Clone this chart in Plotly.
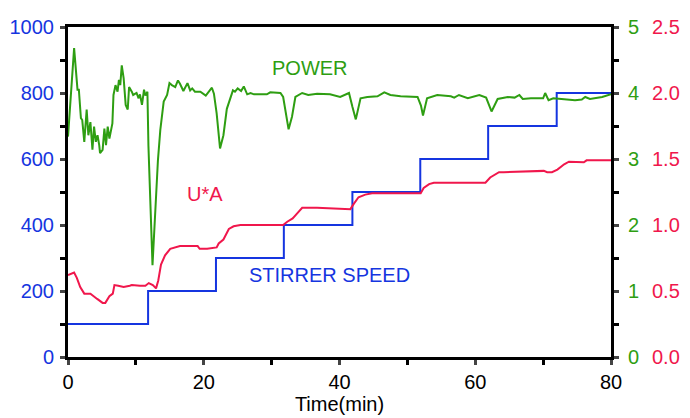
import plotly.graph_objects as go

# Stirrer speed (left axis, rpm-like scale 0-1000)
speed_t = [0, 11.8, 21.8, 31.8, 41.9, 51.9, 61.9, 72.0, 80]
speed_val = [100, 200, 300, 400, 500, 600, 700, 800, 800]

# Power (right axis, 0-5)
power_t = [0, 0.9, 1.4, 1.6, 1.9, 2.1, 2.4, 2.75, 3.0, 3.3, 3.6, 3.84, 4.1, 4.35, 4.6, 4.72,
           5.1, 5.36, 5.6, 5.85, 6.1, 6.35, 6.54, 6.7, 7.0, 7.3, 7.5, 7.7, 7.92, 8.2, 8.5,
           8.8, 9.0, 9.4, 9.6, 10.1, 10.4, 10.6, 10.9, 11.2, 11.4, 11.7, 11.85, 12.45, 13.25,
           13.6, 14.1, 14.6, 14.95, 15.3, 15.8, 16.2, 16.5, 17.0, 17.6, 18.0, 18.3, 18.7,
           19.5, 20.3, 20.7, 21.2, 21.5, 21.9, 22.4, 22.9, 23.4, 23.9, 24.3, 24.6, 25.0,
           25.5, 25.9, 26.4, 26.9, 27.4, 28.4, 29.3, 29.8, 31.3, 31.7, 32.5, 33.0, 33.5,
           34.5, 35.4, 36.7, 38.6, 40.1, 41.4, 41.9, 42.4, 43.1, 44.1, 45.6, 46.6, 47.5,
           49.0, 51.5, 52.0, 52.3, 52.9, 54.4, 56.4, 56.9, 57.6, 58.9, 60.6, 61.6, 62.4,
           63.3, 64.8, 65.8, 66.5, 67.0, 68.2, 70.0, 70.3, 70.8, 71.5, 72.7, 74.7, 75.7,
           76.2, 76.9, 78.7, 80.0]
power_val = [3.34, 4.68, 4.05, 4.05, 3.62, 3.59, 3.26, 3.75, 3.36, 3.56, 3.14, 3.49, 3.26, 3.36, 3.21, 3.09,
             3.14, 3.46, 3.21, 3.49, 3.31, 3.44, 3.54, 3.97, 4.12, 4.02, 4.20, 4.12, 4.42, 4.22, 3.82,
             3.75, 4.09, 4.02, 3.97, 4.00, 3.92, 3.98, 3.82, 4.05, 3.96, 4.02, 3.20, 1.39, 2.98,
             3.44, 3.87, 3.97, 4.15, 4.12, 4.09, 4.19, 4.14, 4.03, 4.15, 4.04, 4.07, 4.02,
             4.02, 3.96, 4.02, 4.08, 3.99, 3.69, 3.16, 3.36, 3.76, 3.92, 4.04, 4.02, 4.07,
             4.03, 4.10, 3.98, 4.00, 3.98, 3.98, 3.98, 4.01, 4.00, 3.94, 3.45, 3.64, 3.94,
             4.00, 3.97, 3.99, 3.98, 3.94, 4.00, 3.79, 3.60, 3.92, 3.94, 3.95, 4.01, 3.97,
             3.95, 3.94, 3.81, 3.66, 3.92, 3.97, 3.95, 3.93, 3.97, 3.92, 3.97, 3.93, 3.72,
             3.91, 3.94, 3.93, 3.97, 3.91, 3.92, 3.92, 4.00, 3.89, 3.92, 3.91, 3.89, 3.90,
             3.94, 3.91, 3.94, 3.98]

# U*A (second right axis, 0-2.5)
ua_t = [0, 0.9, 1.3, 1.8, 2.4, 3.3, 4.3, 5.1, 5.5, 6.1, 6.6, 6.84, 7.4, 8.2, 9.1, 9.4, 10.6,
        11.4, 11.9, 12.5, 12.97, 13.3, 13.7, 14.3, 15.06, 15.8, 16.5, 19.1, 19.4, 20.5, 21.9,
        22.2, 22.9, 23.7, 24.4, 25.4, 28.4, 31.7, 32.3, 33.1, 33.8, 34.5, 36.7, 41.6, 42.1,
        42.8, 43.8, 44.8, 51.96, 52.4, 53.2, 53.9, 61.5, 62.2, 63.5, 64.2, 70.1, 70.6, 71.3,
        72.1, 73.1, 73.8, 76.0, 76.4, 80.0]
ua_val = [0.62, 0.64, 0.60, 0.53, 0.48, 0.48, 0.44, 0.41, 0.41, 0.46, 0.48, 0.545, 0.54, 0.53, 0.54, 0.545, 0.54,
          0.54, 0.56, 0.545, 0.52, 0.58, 0.70, 0.77, 0.82, 0.83, 0.84, 0.84, 0.82, 0.82, 0.83,
          0.86, 0.89, 0.97, 0.99, 1.00, 1.00, 1.00, 1.025, 1.05, 1.09, 1.13, 1.13, 1.12, 1.16,
          1.21, 1.23, 1.24, 1.24, 1.28, 1.31, 1.32, 1.32, 1.36, 1.40, 1.40, 1.41, 1.40, 1.40,
          1.42, 1.46, 1.48, 1.475, 1.49, 1.49]

x_ticks = [0, 20, 40, 60, 80]
left_ticks = [0, 200, 400, 600, 800, 1000]
power_ticks = [0, 1, 2, 3, 4, 5]
ua_ticks = [0.0, 0.5, 1.0, 1.5, 2.0, 2.5]

BLUE = "#1535e0"
GREEN = "#2e9e12"
RED = "#f0174c"
FONT = "Arial, Liberation Sans, sans-serif"

fig = go.Figure()
fig.add_trace(go.Scatter(x=speed_t, y=speed_val, mode="lines", line=dict(color=BLUE, width=2, shape="hv"),
                         yaxis="y", showlegend=False))
fig.add_trace(go.Scatter(x=power_t, y=power_val, mode="lines", line=dict(color=GREEN, width=2),
                         yaxis="y2", showlegend=False))
fig.add_trace(go.Scatter(x=ua_t, y=ua_val, mode="lines", line=dict(color=RED, width=2),
                         yaxis="y3", showlegend=False))

fig.update_layout(
    width=682, height=410,
    margin=dict(l=60, r=79, t=19, b=61),
    paper_bgcolor="white", plot_bgcolor="white",
    font=dict(family=FONT, size=20, color="black"),
    xaxis=dict(range=[0, 80], tickvals=x_ticks, ticks="outside", ticklen=5, tickwidth=3,
               showline=True, linewidth=3, linecolor="black", mirror=True, showgrid=False,
               zeroline=False, tickfont=dict(size=20, color="black"), automargin=False,
               minor=dict(dtick=10, tick0=0, ticks="outside", ticklen=5, tickwidth=3, tickcolor="black"),
               title=dict(text="Time(min)", font=dict(size=20), standoff=0)),
    yaxis=dict(range=[0, 1000], tickvals=left_ticks, ticks="outside", ticklen=5, tickwidth=3,
               showline=True, linewidth=3, linecolor="black", showgrid=False, zeroline=False,
               tickfont=dict(size=20, color=BLUE), ticklabelstandoff=2, automargin=False,
               minor=dict(dtick=100, tick0=0, ticks="outside", ticklen=5, tickwidth=3, tickcolor="black")),
    yaxis2=dict(range=[0, 5], tickvals=power_ticks, overlaying="y", side="right", anchor="x",
                ticks="outside", ticklen=5, tickwidth=3, showline=True, linewidth=3, linecolor="black",
                showgrid=False, zeroline=False, tickfont=dict(size=20, color=GREEN), ticklabelstandoff=5,
                automargin=False,
                minor=dict(dtick=0.5, tick0=0, ticks="outside", ticklen=5, tickwidth=3, tickcolor="black")),
    yaxis3=dict(range=[0, 2.5], tickvals=ua_ticks, tickformat=".1f", overlaying="y", side="right",
                anchor="x", ticks="", showline=False, showgrid=False, zeroline=False, automargin=False,
                tickfont=dict(size=20, color=RED), ticklabelstandoff=40),
    annotations=[
        dict(x=35.7, y=876, xref="x", yref="y", text="POWER", showarrow=False,
             font=dict(size=20, color=GREEN)),
        dict(x=20.2, y=494, xref="x", yref="y", text="U*A", showarrow=False,
             font=dict(size=20, color=RED)),
        dict(x=38.5, y=248, xref="x", yref="y", text="STIRRER SPEED", showarrow=False,
             font=dict(size=20, color=BLUE)),
    ],
)

fig.write_html("out.html")
